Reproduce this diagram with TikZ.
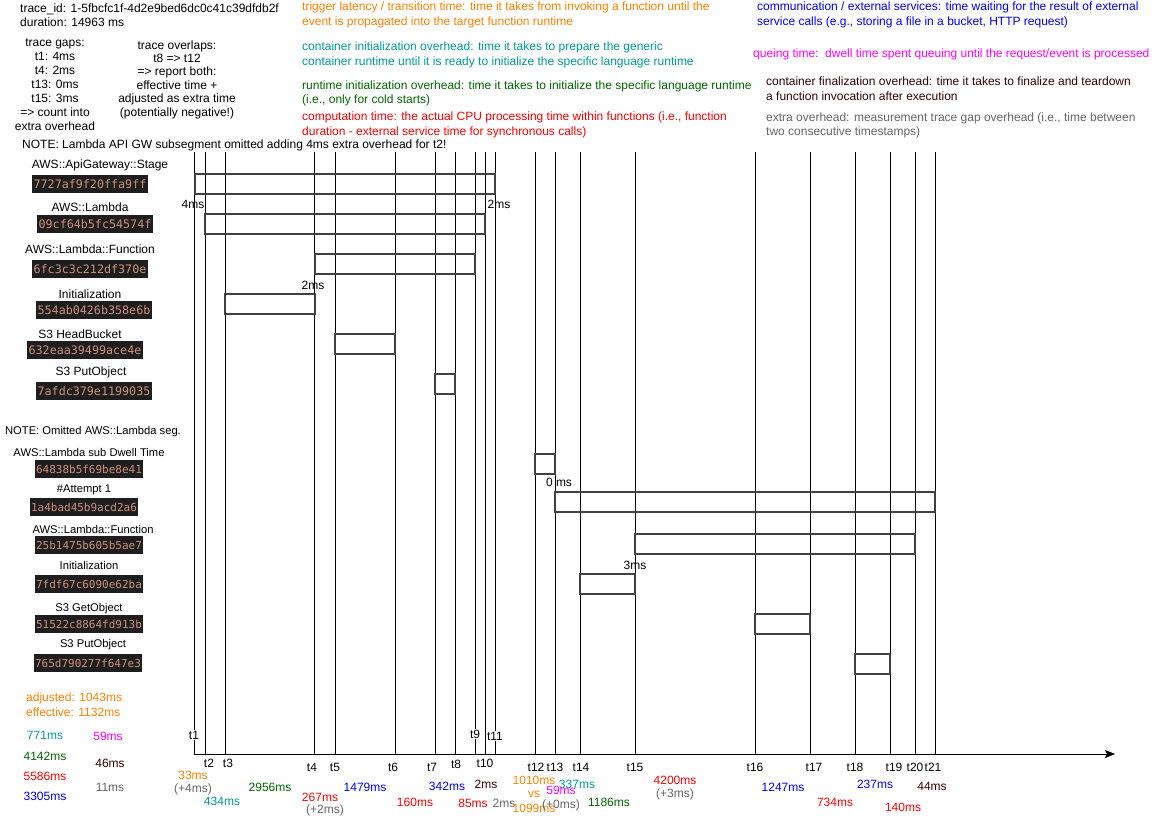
\documentclass[tikz,border=0pt]{standalone}
\usepackage{fontspec}
\setmainfont{Liberation Sans}
\setmonofont{DejaVu Sans Mono}
\usetikzlibrary{arrows.meta}
\definecolor{trigger}{HTML}{FF8000}
\definecolor{contin}{HTML}{009999}
\definecolor{runin}{HTML}{006600}
\definecolor{comput}{HTML}{FF0000}
\definecolor{comm}{HTML}{0000FF}
\definecolor{queue}{HTML}{FF00FF}
\definecolor{finali}{HTML}{330000}
\definecolor{extra}{HTML}{666666}
\definecolor{codebg}{HTML}{1E1E1E}
\definecolor{codefg}{HTML}{CE9178}

\begin{document}
\begin{tikzpicture}[x=1pt,y=-1pt,
  every node/.style={font=\fontsize{12}{14.5}\selectfont,inner sep=0pt},
  txt/.style={anchor=west,align=left},
  segid/.style={fill=codebg,text=codefg,font=\ttfamily\fontsize{11.7}{12}\selectfont,inner xsep=1.5pt,minimum height=18pt},
  small/.style={font=\fontsize{11.2}{13}\selectfont},
  smallid/.style={segid,font=\ttfamily\fontsize{11}{12}\selectfont},
  bar/.style={draw=black!75,line width=1.8pt},
  tline/.style={line width=0.8pt},
  tlbl/.style={fill=white,inner xsep=0.5pt,inner ysep=1pt}]
  \useasboundingbox (0,0) rectangle (1154,817);

  % header
  \node[txt] (traceid) at (20,15) {trace\_id: 1-5fbcfc1f-4d2e9bed6dc0c41c39dfdb2f\\duration: 14963 ms};
  \node[align=center,font=\fontsize{12}{14}\selectfont] (gaps) at (55,85) {trace gaps:\\t1: 4ms\\t4: 2ms\\t13: 0ms\\t15: 3ms\\=> count into\\extra overhead};
  \node[align=center,font=\fontsize{12}{13.4}\selectfont] (overlaps) at (177,79.5) {trace overlaps:\\t8 => t12\\=> report both:\\effective time +\\adjusted as extra time\\(potentially negative!)};
  \node[txt] (note1) at (22,145) {NOTE: Lambda API GW subsegment omitted adding 4ms extra overhead for t2!};

  % legend
  \node[txt,text=trigger] (legtrig) at (302,15) {trigger latency / transition time: time it takes from invoking a function until the\\event is propagated into the target function runtime};
  \node[txt,text=contin] (legcont) at (302,55) {container initialization overhead: time it takes to prepare the generic\\container runtime until it is ready to initialize the specific language runtime};
  \node[txt,text=runin] (legrun) at (302,93.5) {runtime initialization overhead: time it takes to initialize the specific language runtime\\(i.e., only for cold starts)};
  \node[txt,text=comput] (legcomp) at (302,125) {computation time: the actual CPU processing time within functions (i.e., function\\duration - external service time for synchronous calls)};
  \node[txt,text=comm] (legcomm) at (757,15) {communication / external services: time waiting for the result of external\\service calls (e.g., storing a file in a bucket, HTTP request)};
  \node[txt,text=queue] (legqueue) at (753,54) {queing time:\ \ dwell time spent queuing until the request/event is processed};
  \node[txt,text=finali] (legfin) at (766,88.5) {container finalization overhead: time it takes to finalize and teardown\\a function invocation after execution};
  \node[txt,text=extra] (legextra) at (766,125.5) {extra overhead: measurement trace gap overhead (i.e., time between\\two consecutive timestamps)};

  % timestamps
  \foreach \tx [count=\i] in {194,205,225,314,335,395,435,455,475,485,495,535,555,580,635,755,810,855,890,915,935} {
    \coordinate (t\i) at (\tx,754);
    \draw[tline] (t\i) -- (\tx,152);
  }
  \coordinate (axisend) at (1115,754);
  \draw[tline,-{Stealth[length=10pt,width=8pt,inset=2pt]}] (t1) -- (axisend);

  % segments, first invocation
  \node (stagelbl) at (100,165) {AWS::ApiGateway::Stage};
  \node[segid] (stageid) at (90,184) {7727af9f20ffa9ff};
  \draw[bar] (195,174) rectangle (495,194);
  \node (lambdalbl) at (90,207) {AWS::Lambda};
  \node[segid] (lambdaid) at (95,224) {09cf64b5fc54574f};
  \draw[bar] (205,214) rectangle (485,234);
  \node (funclbl) at (90,249) {AWS::Lambda::Function};
  \node[segid] (funcid) at (90,269) {6fc3c3c212df370e};
  \draw[bar] (315,254) rectangle (475,274);
  \node (initlbl) at (90,294) {Initialization};
  \node[segid] (initid) at (94,310) {554ab0426b358e6b};
  \draw[bar] (225,294) rectangle (315,314);
  \node (headlbl) at (80,334) {S3 HeadBucket};
  \node[segid] (headid) at (85,350) {632eaa39499ace4e};
  \draw[bar] (335,334) rectangle (395,354);
  \node (putlbl) at (91,372) {S3 PutObject};
  \node[segid] (putid) at (94,391) {7afdc379e1199035};
  \draw[bar] (435,374) rectangle (455,394);

  % segments, second invocation
  \node[small] (note2) at (93,432) {NOTE: Omitted AWS::Lambda seg.};
  \node[small] (dwelllbl) at (89,452) {AWS::Lambda sub Dwell Time};
  \node[smallid] (dwellid) at (89,469) {64838b5f69be8e41};
  \draw[bar] (535,454) rectangle (555,474);
  \node[small] (attlbl) at (84,490) {\#Attempt 1};
  \node[smallid] (attid) at (84,507) {1a4bad45b9acd2a6};
  \draw[bar] (555,492) rectangle (935,512);
  \node[small] (func2lbl) at (93,529) {AWS::Lambda::Function};
  \node[smallid] (func2id) at (89,545) {25b1475b605b5ae7};
  \draw[bar] (635,534) rectangle (915,554);
  \node[small] (init2lbl) at (89,565) {Initialization};
  \node[smallid] (init2id) at (89,584) {7fdf67c6090e62ba};
  \draw[bar] (580,574) rectangle (635,594);
  \node[small] (getlbl) at (89,609) {S3 GetObject};
  \node[smallid] (getid) at (89,624) {51522c8864fd913b};
  \draw[bar] (755,614) rectangle (810,634);
  \node[small] (put2lbl) at (93,645) {S3 PutObject};
  \node[smallid] (put2id) at (88,663) {765d790277f647e3};
  \draw[bar] (855,654) rectangle (890,674);

  % gap marks
  \node (gapa) at (193,204) {4ms};
  \node (gapb) at (499,204) {2ms};
  \node (gapc) at (313,285) {2ms};
  \node (gapd) at (559,482) {0 ms};
  \node (gape) at (635,565) {3ms};

  % timestamp labels
  \node[tlbl] (lt1) at (194,735) {t1};
  \node[tlbl] (lt9) at (475,734) {t9};
  \node[tlbl] (lt11) at (495,736) {t11};
  \foreach \lx/\ly/\lt in {209/763/t2,228/763/t3,312/767/t4,335/767/t5,393/767/t6,432/767/t7,456/764/t8,485/763/t10,
    536/767/t12,555/767/t13,581/767/t14,635/767/t15,755/767/t16,814/767/t17,855/767/t18,894/767/t19,915/767/t20,933/767/t21}
    \node (l\lt) at (\lx,\ly) {\lt};

  % totals
  \node[txt,text=trigger] (adjusted) at (26,704.5) {adjusted: 1043ms\\effective: 1132ms};
  \foreach \vx/\vy/\vc/\vt [count=\k] in {45/735/contin/771ms,108/736/queue/59ms,45/756/runin/4142ms,110/763/finali/46ms,
    45/776/comput/5586ms,110/787/extra/11ms,45/796/comm/3305ms}
    \node[text=\vc] (sum\k) at (\vx,\vy) {\vt};

  % durations
  \foreach \vx/\vy/\vc/\vt [count=\k] in {193/775/trigger/33ms,193/789/extra/(+4ms),222/801/contin/434ms,270/787/runin/2956ms,
    320/797/comput/267ms,325/810/extra/(+2ms),365/787/comm/1479ms,415/802/comput/160ms,447/786/comm/342ms,
    486/784/finali/2ms,473/803/comput/85ms,504/803/extra/2ms,534/780/trigger/1010ms,534/794/trigger/vs,534/808/trigger/1099ms,
    577/784/contin/337ms,561/790/queue/59ms,561/805/extra/(+0ms),609/802/runin/1186ms,675/780/comput/4200ms,675/794/extra/(+3ms),
    783/787/comm/1247ms,835/802/comput/734ms,875/784/comm/237ms,903/807/comput/140ms,932/786/finali/44ms}
    \node[text=\vc] (dur\k) at (\vx,\vy) {\vt};
\end{tikzpicture}
\end{document}
